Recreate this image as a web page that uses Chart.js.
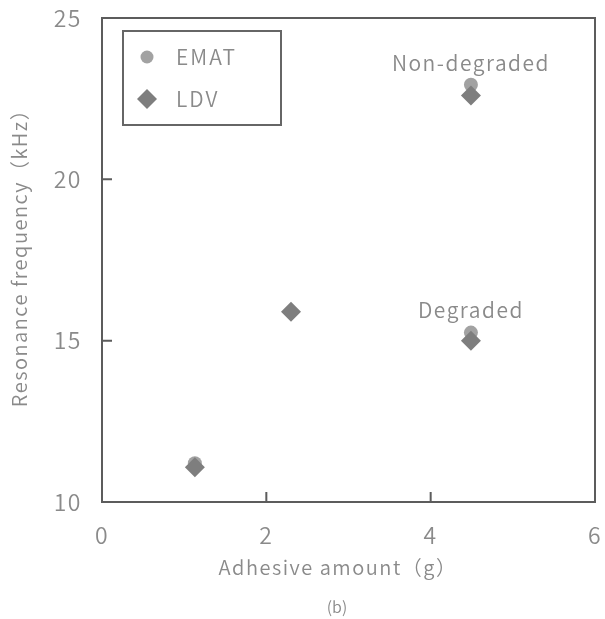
<!DOCTYPE html>
<html>
<head>
<meta charset="utf-8">
<script src="https://cdn.jsdelivr.net/npm/chart.js@4"></script>
<style>
html,body{margin:0;padding:0;background:#fff;}
#wrap{width:605px;height:619px;position:relative;}
</style>
</head>
<body>
<div id="wrap"><canvas id="c" width="605" height="619"></canvas></div>
<script>
// ---- data ----
const emat_x = [1.13, 4.49, 4.49];
const emat_y = [11.2, 15.25, 22.93];
const ldv_x = [1.13, 2.3, 4.49, 4.49];
const ldv_y = [11.08, 15.9, 15.0, 22.6];
const xTicks = [0, 2, 4, 6];
const yTicks = [10, 15, 20, 25];
const seriesNames = ['EMAT', 'LDV'];
const annotations = [
  { text: 'Non-degraded', x: 4.49, y: 23.6 },
  { text: 'Degraded', x: 4.49, y: 15.95 }
];
const xTitle = 'Adhesive amount（g）';
const yTitle = 'Resonance frequency（kHz）';
const caption = '(b)';

const FONT = '"Noto Sans CJK JP", "Noto Sans", sans-serif';
const TXT = '#8a8a8a';
const EMAT_C = '#a2a2a2';
const LDV_C = '#7e7e7e';
const FRAME = '#5c5c5c';
const W = '350';

const toPts = (xs, ys) => xs.map((x, i) => ({ x: x, y: ys[i] }));

const decor = {
  id: 'decor',
  beforeDraw(chart) { chart.ctx.letterSpacing = '1.5px'; },
  afterDatasetsDraw(chart) {
    const ctx = chart.ctx, a = chart.chartArea;
    const xs = chart.scales.x, ys = chart.scales.y;
    ctx.save();
    ctx.letterSpacing = '1.5px';
    // frame
    ctx.strokeStyle = FRAME;
    ctx.lineWidth = 2;
    ctx.strokeRect(a.left, a.top, a.right - a.left, a.bottom - a.top);
    // inner ticks
    ctx.beginPath();
    xTicks.slice(1, -1).forEach(v => {
      const px = xs.getPixelForValue(v);
      ctx.moveTo(px, a.bottom); ctx.lineTo(px, a.bottom - 10);
    });
    yTicks.slice(1, -1).forEach(v => {
      const py = ys.getPixelForValue(v);
      ctx.moveTo(a.left, py); ctx.lineTo(a.left + 10, py);
    });
    ctx.stroke();
    // legend box
    ctx.strokeStyle = '#666';
    ctx.lineWidth = 2;
    ctx.strokeRect(123, 31, 158, 94);
    ctx.fillStyle = EMAT_C;
    ctx.beginPath(); ctx.arc(147, 57, 6.5, 0, Math.PI * 2); ctx.fill();
    ctx.fillStyle = LDV_C;
    ctx.beginPath();
    ctx.moveTo(137, 99); ctx.lineTo(147, 89); ctx.lineTo(157, 99); ctx.lineTo(147, 109);
    ctx.closePath(); ctx.fill();
    ctx.fillStyle = TXT;
    ctx.font = W + ' 21px ' + FONT;
    ctx.textAlign = 'left';
    ctx.textBaseline = 'middle';
    ctx.letterSpacing = '2px';
    ctx.fillText(seriesNames[0], 176, 57);
    ctx.fillText(seriesNames[1], 176, 99);
    ctx.letterSpacing = '1.5px';
    // annotations
    ctx.textAlign = 'center';
    annotations.forEach(an => {
      ctx.fillText(an.text, xs.getPixelForValue(an.x), ys.getPixelForValue(an.y));
    });
    // axis titles
    ctx.font = W + ' 20px ' + FONT;
    ctx.fillText(xTitle, 338, 567);
    ctx.save();
    ctx.translate(19, 253);
    ctx.rotate(-Math.PI / 2);
    ctx.fillText(yTitle, 0, 0);
    ctx.restore();
    ctx.font = W + ' 16px ' + FONT;
    ctx.letterSpacing = '0px';
    ctx.fillText(caption, 337, 607);
    ctx.restore();
  }
};

new Chart(document.getElementById('c'), {
  type: 'scatter',
  data: {
    datasets: [
      { label: seriesNames[1], data: toPts(ldv_x, ldv_y), pointStyle: 'rectRot',
        pointRadius: 10, pointHoverRadius: 10, backgroundColor: LDV_C, borderWidth: 0 },
      { label: seriesNames[0], data: toPts(emat_x, emat_y), pointStyle: 'circle',
        pointRadius: 7, pointHoverRadius: 7, backgroundColor: EMAT_C, borderWidth: 0 }
    ]
  },
  plugins: [decor],
  options: {
    responsive: false,
    animation: false,
    events: [],
    layout: { padding: { top: 18, right: 6, left: 0, bottom: 0 } },
    plugins: { legend: { display: false }, tooltip: { enabled: false } },
    scales: {
      x: {
        type: 'linear', min: 0, max: 6,
        afterBuildTicks: s => { s.ticks = xTicks.map(v => ({ value: v })); },
        afterFit: s => { s.height = 117; s.paddingLeft = 0; s.paddingRight = 0; },
        grid: { display: false }, border: { display: false },
        ticks: { color: TXT, font: { family: FONT, size: 23, weight: W }, padding: 11, maxRotation: 0 }
      },
      y: {
        type: 'linear', min: 10, max: 25,
        afterBuildTicks: s => { s.ticks = yTicks.map(v => ({ value: v })); },
        afterFit: s => { s.width = 102; s.paddingTop = 0; s.paddingBottom = 0; },
        grid: { display: false }, border: { display: false },
        ticks: { color: TXT, font: { family: FONT, size: 23, weight: W }, padding: 12 }
      }
    }
  }
});
</script>
</body>
</html>
